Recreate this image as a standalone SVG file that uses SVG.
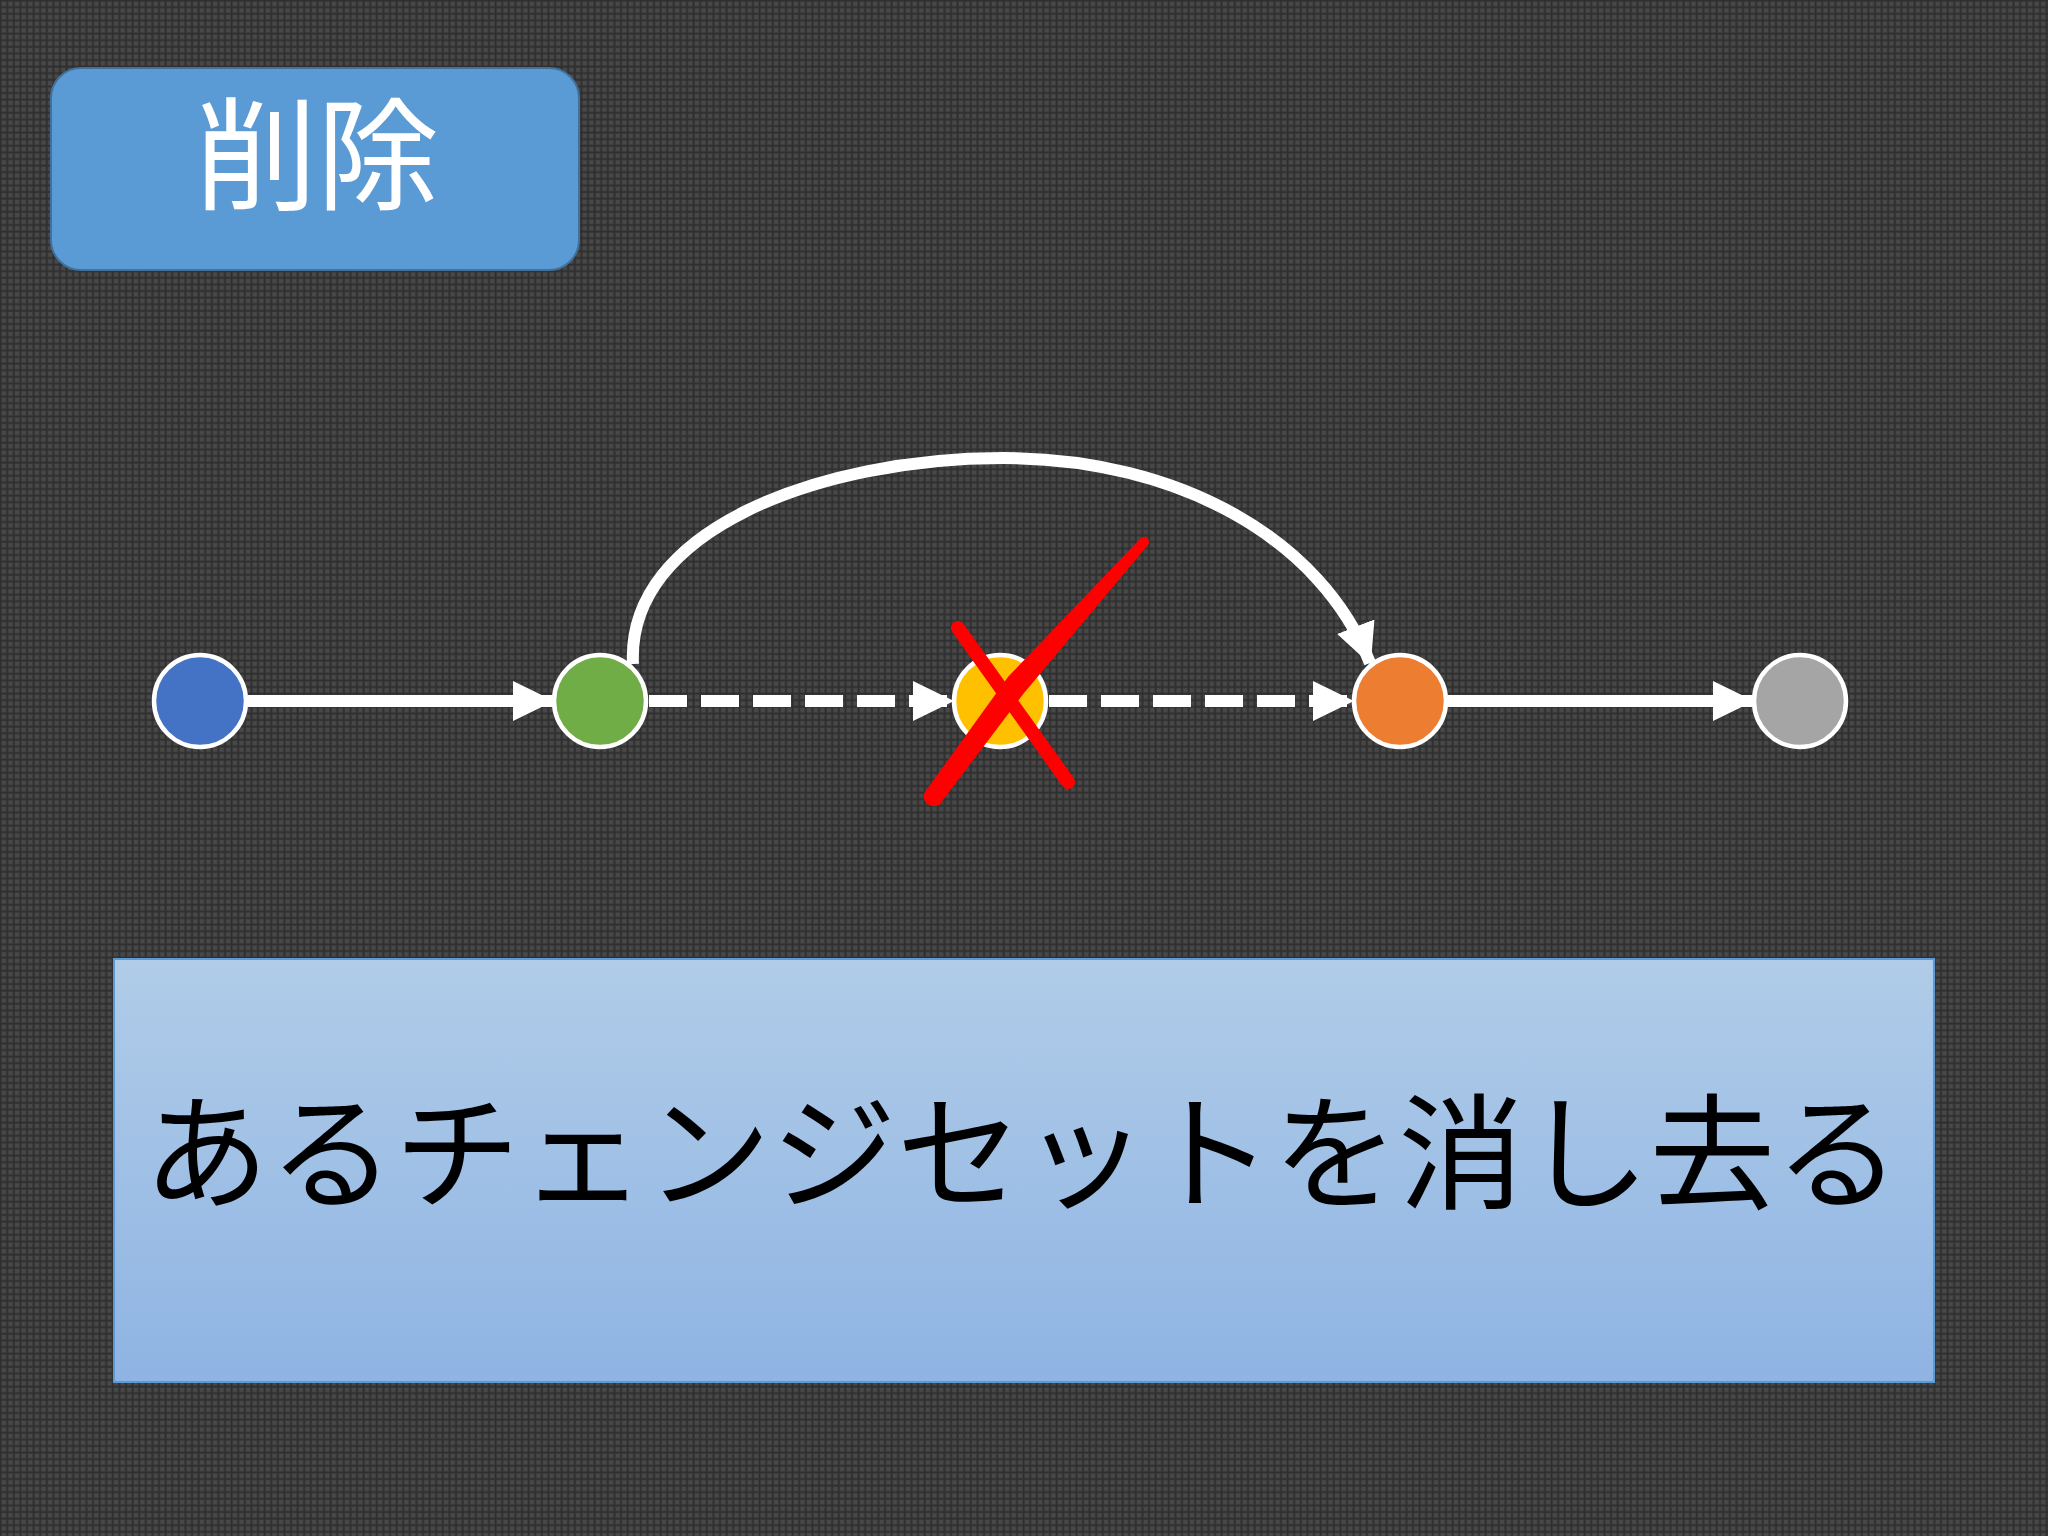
<svg xmlns="http://www.w3.org/2000/svg" width="2048" height="1536" viewBox="0 0 2048 1536">
  <style>
    .node { stroke: #ffffff; stroke-width: 4.5; }
    .edge { stroke: #ffffff; stroke-width: 12; fill: none; }
    .dash { stroke-dasharray: 38 14; }
    .cross { stroke: #ff0000; stroke-linecap: round; fill: none; }
  </style>
  <defs>
    <pattern id="grid" x="0" y="0" width="6.6" height="6.6" patternUnits="userSpaceOnUse">
      <rect width="6.6" height="6.6" fill="#2f2f2f"/>
      <rect x="1.6" y="1.6" width="4.6" height="4.6" fill="#484848"/>
    </pattern>
    <linearGradient id="boxGrad" x1="0" y1="0" x2="0" y2="1">
      <stop offset="0" stop-color="#b0cce8"/>
      <stop offset="1" stop-color="#8fb4e3"/>
    </linearGradient>
    <marker id="arrow" markerUnits="userSpaceOnUse" markerWidth="44" markerHeight="44" refX="39" refY="20" orient="auto">
      <path d="M0 0 L41 20 L0 40 Z" fill="#ffffff"/>
    </marker>
  </defs>

  <rect width="2048" height="1536" fill="url(#grid)"/>

  <g id="title">
    <rect x="51" y="68" width="528" height="202" rx="30" ry="30" fill="#5b9bd5" stroke="#41719c" stroke-width="2"/>
    <text x="317" y="200" font-family="'Noto Sans CJK JP', 'Noto Sans CJK SC', sans-serif" font-size="122" fill="#ffffff" text-anchor="middle">削除</text>
  </g>

  <g id="connectors">
    <line class="edge" x1="248" y1="701" x2="552" y2="701" marker-end="url(#arrow)"/>
    <line class="edge dash" x1="649" y1="701" x2="952" y2="701" marker-end="url(#arrow)"/>
    <line class="edge dash" x1="1049" y1="701" x2="1352" y2="701" marker-end="url(#arrow)"/>
    <line class="edge" x1="1448" y1="701" x2="1752" y2="701" marker-end="url(#arrow)"/>
    <path class="edge" d="M 633 664 C 626 530, 820 458, 1003 458 C 1180 458, 1322 540, 1370 663" marker-end="url(#arrow)"/>
  </g>

  <g id="n1"><circle class="node" cx="200" cy="701" r="46" fill="#4472c4"/></g>
  <g id="n2"><circle class="node" cx="600" cy="701" r="46" fill="#70ad47"/></g>
  <g id="n3"><circle class="node" cx="1000" cy="701" r="46" fill="#ffc000"/></g>
  <g id="n4"><circle class="node" cx="1400" cy="701" r="46" fill="#ed7d31"/></g>
  <g id="n5"><circle class="node" cx="1800" cy="701" r="46" fill="#a5a5a5"/></g>

  <g id="cross">
    <line class="cross" x1="958" y1="628" x2="1068" y2="782" stroke-width="14"/>
    <path d="M 929 795 Q 928 802 936 801 L 1020 690 L 1144 542 L 1012 680 Z" fill="#ff0000" stroke="#ff0000" stroke-width="10" stroke-linejoin="round"/>
  </g>

  <g id="description">
    <rect x="114" y="959" width="1820" height="423" fill="url(#boxGrad)" stroke="#5b9bd5" stroke-width="2"/>
    <text x="1022" y="1199" font-family="'Noto Sans CJK JP', 'Noto Sans CJK SC', sans-serif" font-size="125.5" fill="#000000" text-anchor="middle">あるチェンジセットを消し去る</text>
  </g>
</svg>
